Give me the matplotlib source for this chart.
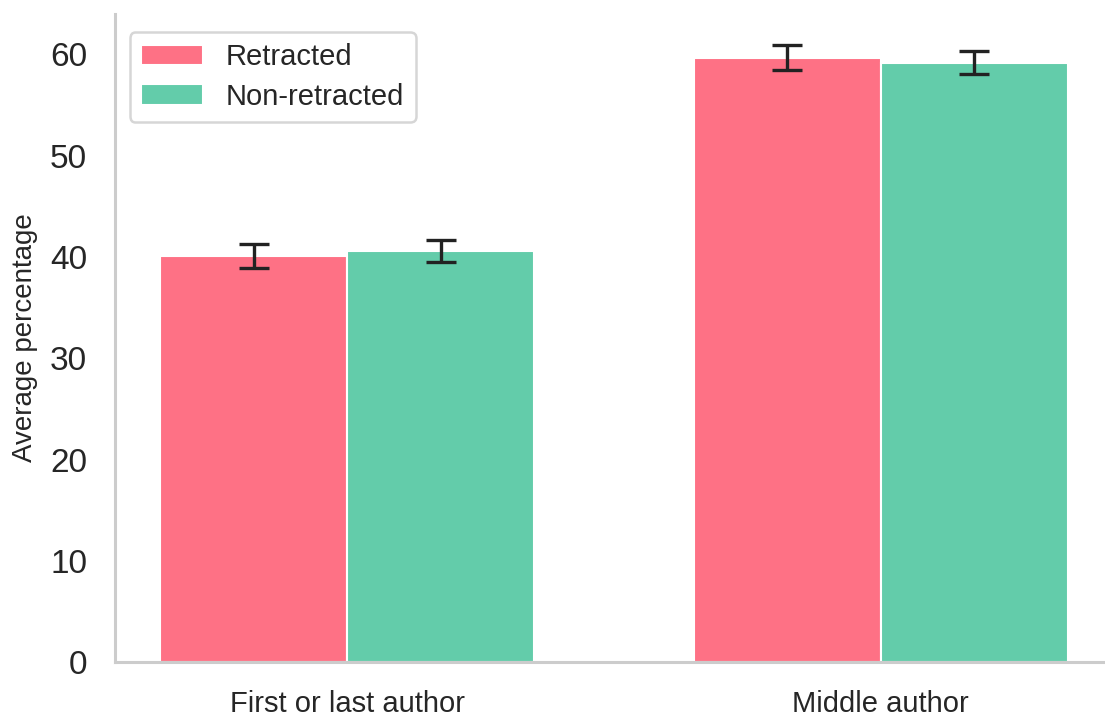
import matplotlib.pyplot as plt
import numpy as np

categories = ["First or last author", "Middle author"]
retracted = [40.1, 59.7]
retracted_err = [1.2, 1.2]
non_retracted = [40.6, 59.2]
non_retracted_err = [1.1, 1.1]

plt.rcParams['font.family'] = ['Liberation Sans', 'DejaVu Sans']
text_color = "#262626"

fig = plt.figure(figsize=(11.05, 7.17), dpi=100)
ax = fig.add_axes([115 / 1105, (717 - 662) / 717, (1105 - 115) / 1105, (662 - 14) / 717])

x = np.arange(len(categories))
width = 0.35
err_kw = dict(ecolor="#222222", elinewidth=2.4, capsize=10.8, capthick=2.4)
ax.bar(x - width / 2, retracted, width, yerr=retracted_err, color="#FE7185",
       edgecolor="white", linewidth=1.5, label="Retracted", error_kw=err_kw)
ax.bar(x + width / 2, non_retracted, width, yerr=non_retracted_err, color="#63CCAA",
       edgecolor="white", linewidth=1.5, label="Non-retracted", error_kw=err_kw)

ax.set_xticks(x)
ax.set_xticklabels(categories)
ax.set_xlim(-0.435, 1.42)
ax.set_ylim(0, 64)
ax.set_yticks(range(0, 61, 10))

ax.set_ylabel("Average percentage", fontsize=20, color=text_color, labelpad=9)
ax.tick_params(axis="y", labelsize=24, length=0, pad=20, colors=text_color)
ax.tick_params(axis="x", labelsize=21, length=0, pad=20, colors=text_color)

for side in ["top", "right"]:
    ax.spines[side].set_visible(False)
for side in ["left", "bottom"]:
    ax.spines[side].set_color("#cccccc")
    ax.spines[side].set_linewidth(2.2)

leg = ax.legend(loc="upper left", fontsize=21, handlelength=2.1, handletextpad=0.8,
                borderpad=0.4, labelspacing=0.38, bbox_to_anchor=(0.0, 0.995),
                frameon=True, edgecolor="#cccccc", fancybox=True)
leg.get_frame().set_linewidth(1.8)
for t in leg.get_texts():
    t.set_color(text_color)

fig.savefig("out.png", dpi=100)
